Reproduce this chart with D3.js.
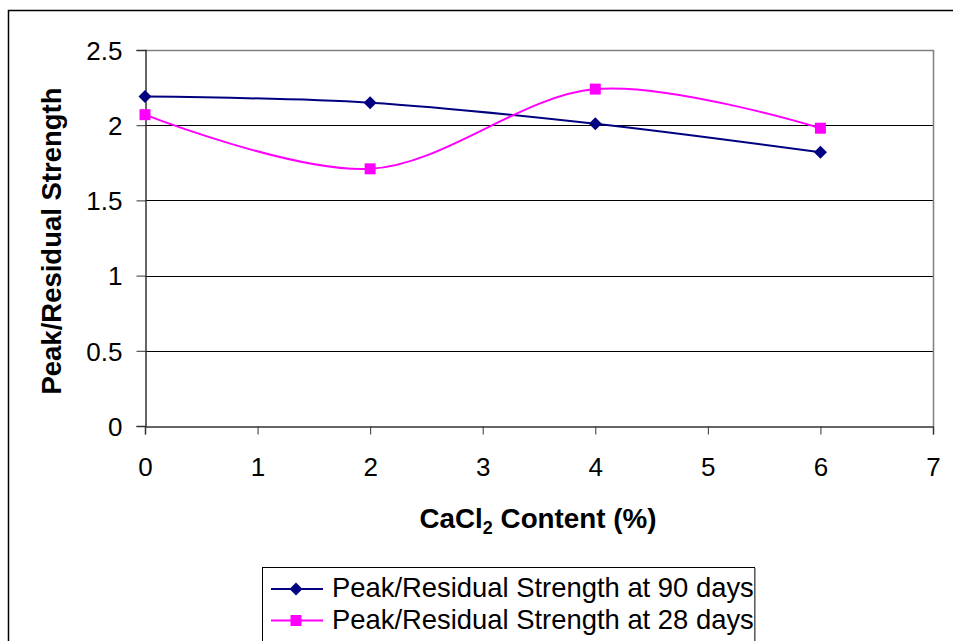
<!DOCTYPE html>
<html>
<head>
<meta charset="utf-8">
<script src="https://cdn.jsdelivr.net/npm/d3@7"></script>
<style>
  html, body { margin: 0; padding: 0; background: #fff; }
  svg { display: block; font-family: "Liberation Sans", Arial, sans-serif; }
</style>
</head>
<body>
<svg id="chart" width="953" height="641"></svg>
<script>
// CaCl2 content (%) on the x axis
const cacl2Content = [0, 2, 4, 6];
// Peak/residual strength ratio for each curing period
const strength90Days = [2.19, 2.15, 2.01, 1.82];
const strength28Days = [2.07, 1.71, 2.24, 1.98];
const seriesNames = ["Peak/Residual Strength at 90 days", "Peak/Residual Strength at 28 days"];
const xTicks = [0, 1, 2, 3, 4, 5, 6, 7];
const yTicks = [0, 0.5, 1, 1.5, 2, 2.5];

const svg = d3.select("#chart");
const plot = { left: 145, right: 933, top: 50, bottom: 426 };

const x = d3.scaleLinear().domain([0, 7]).range([plot.left, plot.right]);
const y = d3.scaleLinear().domain([0, 2.5]).range([plot.bottom, plot.top]);

// Outer chart frame (open on the right and bottom)
svg.append("path")
  .attr("d", `M8.5,641 L8.5,10.5 L953,10.5`)
  .attr("fill", "none").attr("stroke", "#000").attr("stroke-width", 1.5);

// Horizontal gridlines
svg.append("g").selectAll("line")
  .data(yTicks.filter(d => d > 0 && d < 2.5))
  .join("line")
  .attr("x1", plot.left).attr("x2", plot.right)
  .attr("y1", d => Math.round(y(d)) + 0.5).attr("y2", d => Math.round(y(d)) + 0.5)
  .attr("stroke", "#000").attr("stroke-width", 1);

// Plot area border top/right
svg.append("path")
  .attr("d", `M${plot.left},${plot.top + 0.5} L${plot.right + 0.5},${plot.top + 0.5} L${plot.right + 0.5},${plot.bottom}`)
  .attr("fill", "none").attr("stroke", "#808080").attr("stroke-width", 1.5);

// Axes
const yAxis = d3.axisLeft(y).tickValues(yTicks).tickSize(9).tickPadding(14)
  .tickFormat(d3.format(""));
const xAxis = d3.axisBottom(x).tickValues(xTicks).tickSize(8).tickPadding(23)
  .tickFormat(d3.format("d"));

const gy = svg.append("g").attr("transform", `translate(${plot.left + 0.5},0)`).call(yAxis);
const gx = svg.append("g").attr("transform", `translate(0,${plot.bottom + 0.5})`).call(xAxis);
[gx, gy].forEach(g => {
  g.attr("font-size", null).attr("font-family", null);
  g.select(".domain").attr("stroke", "#333").attr("stroke-width", 1.5);
  g.selectAll(".tick line").attr("stroke", "#333").attr("stroke-width", 1);
  g.selectAll(".tick text").attr("fill", "#000")
    .style("font-size", "26px")
    .style("font-family", "'Liberation Sans', Arial, sans-serif");
});
gy.selectAll(".tick text").attr("dy", "0.36em");
gx.selectAll(".tick text").attr("dy", "0.71em");

// Axis titles
svg.append("text")
  .attr("transform", `translate(61,241) rotate(-90)`)
  .attr("text-anchor", "middle")
  .style("font-size", "27.5px").attr("font-weight", "bold")
  .text("Peak/Residual Strength");

const xt = svg.append("text")
  .attr("x", 538).attr("y", 528)
  .attr("text-anchor", "middle")
  .style("font-size", "27.8px").attr("font-weight", "bold");
xt.append("tspan").text("CaCl");
xt.append("tspan").style("font-size", "18px").attr("dy", 6).text("2");
xt.append("tspan").attr("dy", -6).text(" Content (%)");

// Smoothed series lines
const line = d3.line()
  .x((d, i) => x(cacl2Content[i]))
  .y(d => y(d))
  .curve(d3.curveCardinal.tension(0));

const series = [
  { values: strength90Days, color: "#000080", marker: "diamond" },
  { values: strength28Days, color: "#FF00FF", marker: "square" }
];

const diamond = s => `M0,${-s} L${s},0 L0,${s} L${-s},0 Z`;
const square = s => `M${-s},${-s} H${s} V${s} H${-s} Z`;
const markerPath = (m) => m === "diamond" ? diamond(6.5) : square(5.5);

series.forEach(s => {
  svg.append("path")
    .datum(s.values)
    .attr("d", line)
    .attr("fill", "none")
    .attr("stroke", s.color)
    .attr("stroke-width", 2);
  svg.append("g").selectAll("path")
    .data(s.values)
    .join("path")
    .attr("transform", (d, i) => `translate(${x(cacl2Content[i])},${y(d)})`)
    .attr("d", markerPath(s.marker))
    .attr("fill", s.color);
});

// Legend
const legend = svg.append("g");
legend.append("rect")
  .attr("x", 262.5).attr("y", 567.5).attr("width", 492).attr("height", 90)
  .attr("fill", "#fff").attr("stroke", "#000").attr("stroke-width", 1);
legend.append("line")
  .attr("x1", 755).attr("x2", 755).attr("y1", 568).attr("y2", 641)
  .attr("stroke", "#808080").attr("stroke-width", 1.5);
series.forEach((s, i) => {
  const cy = 589 + i * 31.5;
  legend.append("line")
    .attr("x1", 271).attr("x2", 323).attr("y1", cy).attr("y2", cy)
    .attr("stroke", s.color).attr("stroke-width", 2);
  legend.append("path")
    .attr("transform", `translate(296,${cy})`)
    .attr("d", markerPath(s.marker))
    .attr("fill", s.color);
  legend.append("text")
    .attr("x", 332).attr("y", cy + 8)
    .style("font-size", "27.4px")
    .text(seriesNames[i]);
});
</script>
</body>
</html>
